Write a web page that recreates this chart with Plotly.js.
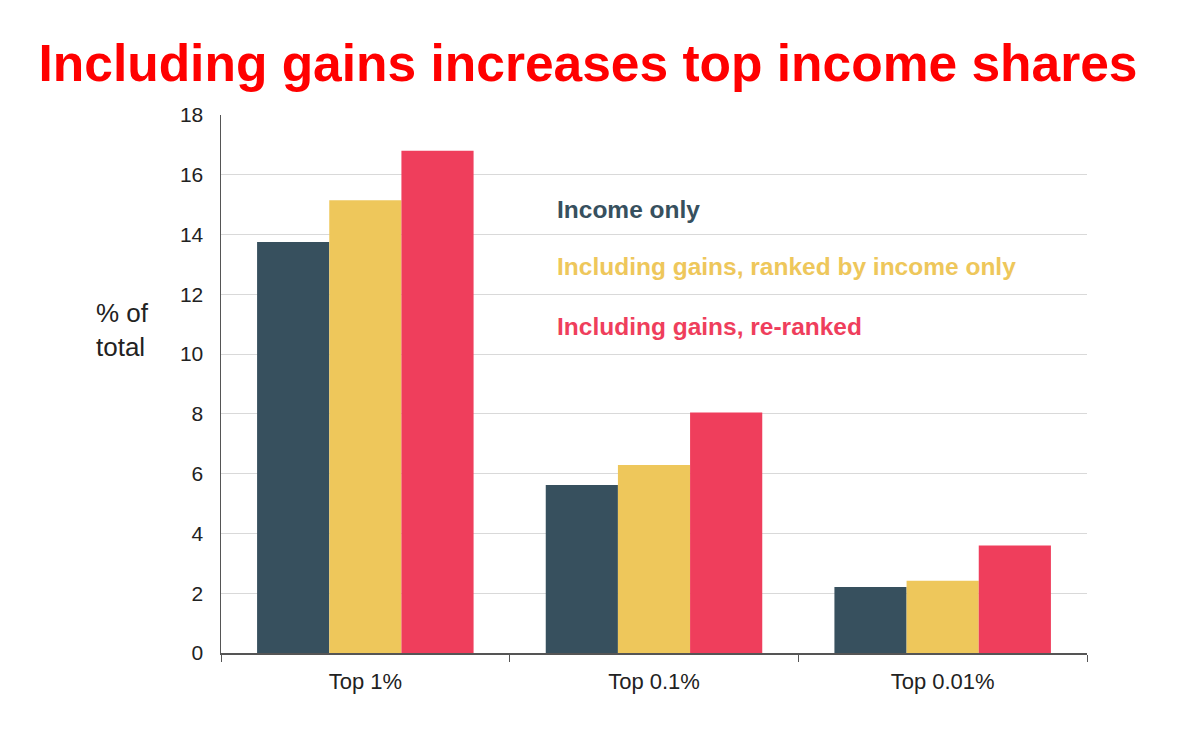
<!DOCTYPE html>
<html>
<head>
<meta charset="utf-8">
<script src="https://cdn.plot.ly/plotly-3.0.1.min.js"></script>
<style>html,body{margin:0;padding:0;background:#fff;}#chart{width:1200px;height:730px;}</style>
</head>
<body>
<div id="chart"></div>
<script>
const categories = ["Top 1%", "Top 0.1%", "Top 0.01%"];
const seriesNames = ["Income only", "Including gains, ranked by income only", "Including gains, re-ranked"];
const incomeOnly = [13.75, 5.62, 2.21];
const gainsRankedByIncome = [15.15, 6.29, 2.42];
const gainsReranked = [16.8, 8.05, 3.6];
const yTicks = [0, 2, 4, 6, 8, 10, 12, 14, 16, 18];
const colors = ["#37505E", "#EEC75B", "#EF3E5C"];
const values = [incomeOnly, gainsRankedByIncome, gainsReranked];

const traces = values.map((v, i) => ({
  type: "bar",
  x: categories,
  y: v,
  name: seriesNames[i],
  marker: {color: colors[i], line: {width: 0}},
  hoverinfo: "skip"
}));

const legendY = [209, 266, 326];
const annotations = seriesNames.map((n, i) => ({
  text: "<b>" + n + "</b>",
  xref: "paper", yref: "paper",
  x: (555 - 221) / 866, y: (653 - legendY[i]) / 538,
  xanchor: "left", yanchor: "middle",
  showarrow: false,
  font: {family: "Liberation Sans, Arial, sans-serif", size: 24.5, color: colors[i]}
}));
annotations.push({
  text: "% of<br>total",
  xref: "paper", yref: "paper",
  x: (94 - 221) / 866, y: (653 - 330) / 538,
  xanchor: "left", yanchor: "middle", align: "left",
  showarrow: false,
  font: {family: "Liberation Sans, Arial, sans-serif", size: 26, color: "#222"}
});

const layout = {
  width: 1200, height: 730,
  paper_bgcolor: "#fff", plot_bgcolor: "#fff",
  margin: {l: 221, r: 113, t: 115, b: 77, pad: 0},
  showlegend: false,
  barmode: "group",
  bargap: 0.25, bargroupgap: 0,
  title: {
    text: "<b>Including gains increases top income shares</b>",
    x: 588 / 1200, xanchor: "center", y: 1 - 63 / 730, yanchor: "middle",
    font: {family: "Liberation Sans, Arial, sans-serif", size: 51.5, color: "#FF0000"}
  },
  xaxis: {
    type: "category",
    showline: true, linecolor: "#555", linewidth: 1.5,
    ticks: "outside", tickson: "boundaries", ticklen: 7, tickcolor: "#555", tickwidth: 1,
    tickfont: {family: "Liberation Sans, Arial, sans-serif", size: 22, color: "#222"},
    ticklabelstandoff: 8,
    showgrid: false, zeroline: false
  },
  yaxis: {
    range: [0, 18],
    tickvals: yTicks,
    ticktext: yTicks.map(String),
    showline: true, linecolor: "#555", linewidth: 1.5,
    ticks: "", showgrid: true, gridcolor: "#d9d9d9", gridwidth: 1,
    zeroline: false,
    tickfont: {family: "Liberation Sans, Arial, sans-serif", size: 21, color: "#222"},
    ticklabelstandoff: 12
  },
  annotations: annotations
};

Plotly.newPlot("chart", traces, layout, {displayModeBar: false, staticPlot: true});
</script>
</body>
</html>
